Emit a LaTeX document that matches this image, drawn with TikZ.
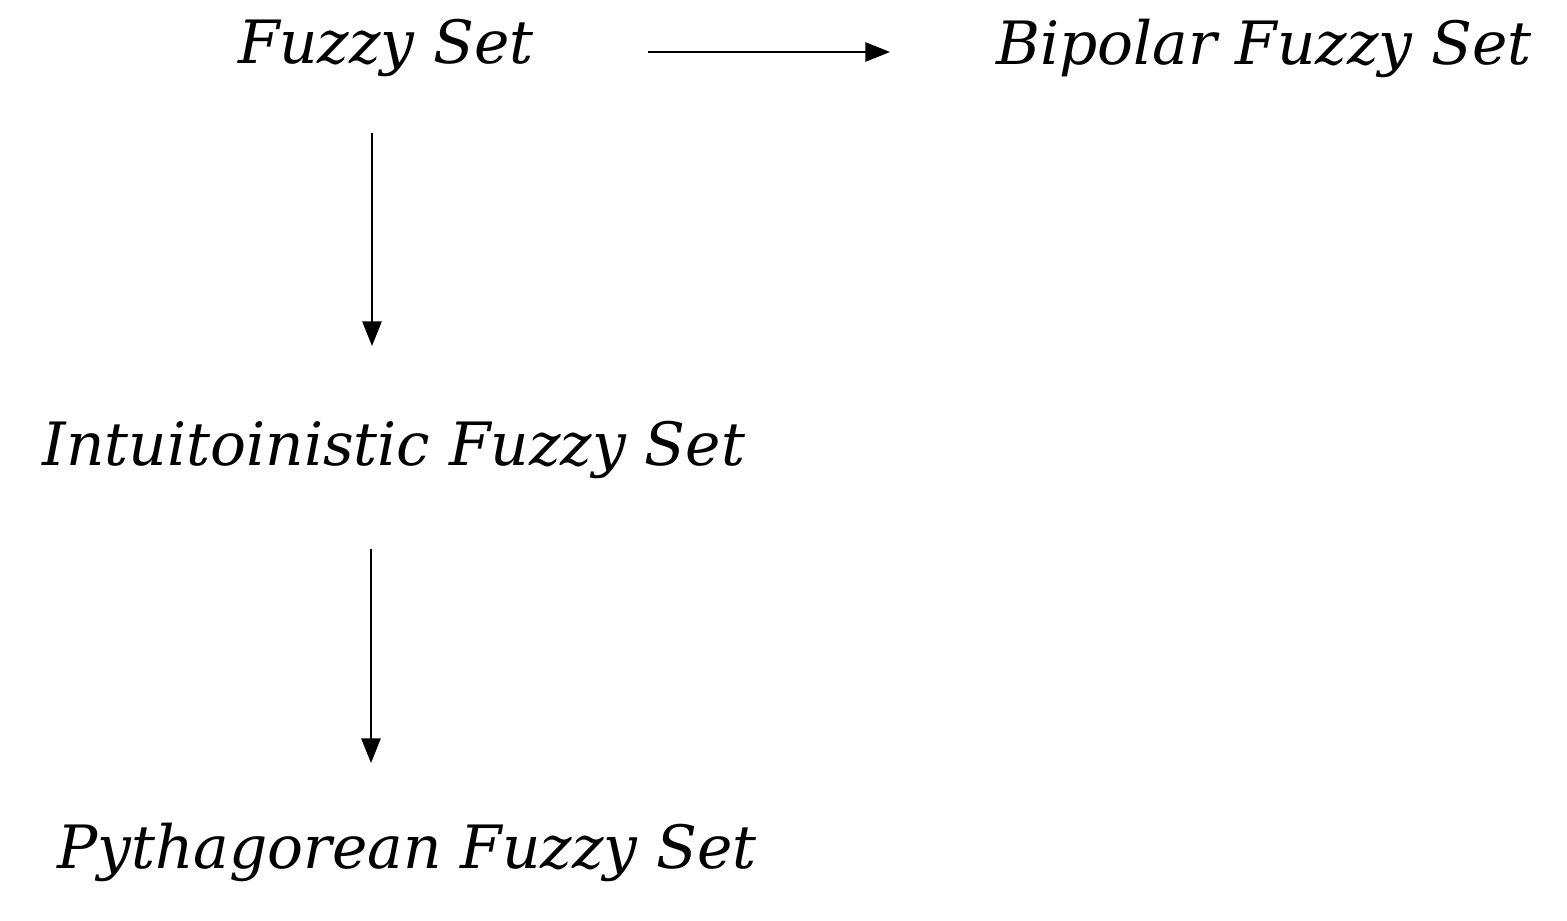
\documentclass[tikz,border=0pt]{standalone}
\usepackage{fontspec}
\setmainfont{DejaVu Serif}
\usetikzlibrary{arrows.meta}
\begin{document}
\begin{tikzpicture}[x=0.02cm,y=-0.02cm,
  lbl/.style={font=\fontsize{34}{40}\selectfont\itshape, inner sep=0pt, anchor=center},
  arr/.style={-{Triangle[length=14pt,width=11pt]}, line width=0.9pt}]
\useasboundingbox (0,0) rectangle (1567,920);
\node[lbl] (fs) at (386,48) {Fuzzy Set};
\node[lbl] (bfs) at (1264,48) {Bipolar Fuzzy Set};
\node[lbl] (ifs) at (394,450) {Intuitoinistic Fuzzy Set};
\node[lbl] (pfs) at (407,852) {Pythagorean Fuzzy Set};
\coordinate (a1) at (648,52); \coordinate (a2) at (890,52);
\coordinate (b1) at (372,133); \coordinate (b2) at (372,346);
\coordinate (c1) at (371,549); \coordinate (c2) at (371,763);
\draw[arr] (a1) -- (a2);
\draw[arr] (b1) -- (b2);
\draw[arr] (c1) -- (c2);
\end{tikzpicture}
\end{document}
